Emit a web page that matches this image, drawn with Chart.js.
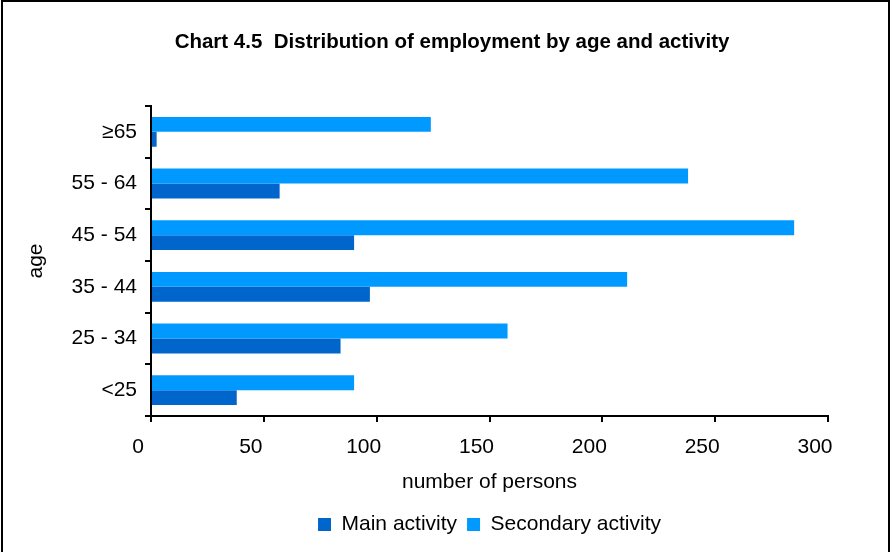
<!DOCTYPE html>
<html><head><meta charset="utf-8">
<script src="https://cdn.jsdelivr.net/npm/chart.js@4"></script>
<style>
html,body{margin:0;padding:0;background:#fff;}
#wrap{position:relative;width:892px;height:552px;overflow:hidden;}
#frame{position:absolute;left:1px;top:0;width:889px;height:570px;border:2px solid #000;box-sizing:border-box;pointer-events:none;}
canvas{display:block;}
</style></head><body>
<div id="wrap"><canvas id="c" width="892" height="552"></canvas><div id="frame"></div></div>
<script>
const categories = ['≥65', '55 - 64', '45 - 54', '35 - 44', '25 - 34', '<25'];
const mainActivity = [2.5, 57, 90, 97, 84, 38];
const secondaryActivity = [124, 238, 285, 211, 158, 90];
const xTickMin = 0, xTickMax = 300, xTickStep = 50;

Chart.defaults.font.family = "'Liberation Sans', Arial, Helvetica, sans-serif";
Chart.defaults.color = '#000';

new Chart(document.getElementById('c'), {
  type: 'bar',
  data: {
    labels: categories,
    datasets: [
      { label: 'Secondary activity', data: secondaryActivity, backgroundColor: '#0099FF',
        xAxisID: 'x', yAxisID: 'y', categoryPercentage: 0.577, barPercentage: 1.0 },
      { label: 'Main activity', data: mainActivity, backgroundColor: '#0066CC',
        xAxisID: 'x', yAxisID: 'y', categoryPercentage: 0.577, barPercentage: 1.0 }
    ]
  },
  options: {
    responsive: false,
    animation: false,
    indexAxis: 'y',
    layout: { padding: { left: 20, right: 8, top: 0, bottom: 7 } },
    plugins: {
      title: {
        display: true,
        text: 'Chart 4.5  Distribution of employment by age and activity',
        font: { size: 20.5, weight: 'bold' },
        color: '#000',
        padding: { top: 30, bottom: 51.4 }
      },
      legend: {
        position: 'bottom',
        fullSize: false,
        labels: {
          boxWidth: 13, boxHeight: 13, padding: 10,
          font: { size: 21 }, color: '#000',
          sort: (a, b) => b.datasetIndex - a.datasetIndex
        }
      },
      tooltip: { enabled: false }
    },
    scales: {
      x: {
        min: xTickMin, max: xTickMax,
        ticks: { stepSize: xTickStep, font: { size: 21 }, color: '#000', padding: 13, maxRotation: 0, labelOffset: -13 },
        grid: { display: true, drawOnChartArea: false, drawTicks: true, tickLength: 6, color: '#000', lineWidth: 2 },
        border: { display: true, color: '#000', width: 2 },
        title: { display: true, text: 'number of persons', font: { size: 21 }, color: '#000', padding: { top: 9, bottom: 9 } },
        afterFit: (s) => { s.height = 88; }
      },
      y: {
        position: 'left',
        ticks: { font: { size: 21 }, color: '#000', padding: 8 },
        grid: { display: true, offset: true, drawOnChartArea: false, drawTicks: true, tickLength: 6, color: '#000', lineWidth: 2 },
        border: { display: true, color: '#000', width: 2 },
        title: { display: true, text: 'age', font: { size: 21 }, color: '#000', padding: { top: 4, bottom: 0 } },
        afterFit: (s) => { s.width = 131; }
      },
      y2: {
        type: 'category',
        position: 'right',
        display: true,
        grid: { display: false },
        border: { display: false },
        ticks: { display: false },
        afterFit: (s) => { s.width = 56; }
      }
    }
  }
});
</script>
</body></html>
